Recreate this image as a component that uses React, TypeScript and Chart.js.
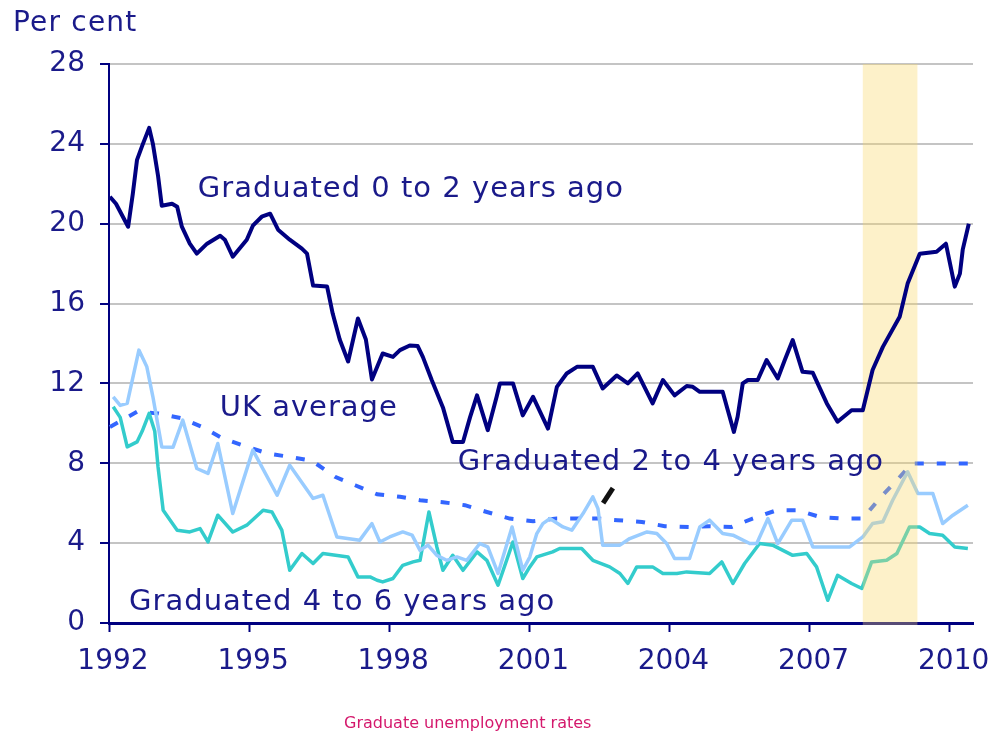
import React, { useEffect, useRef } from "react";
import { Chart, registerables } from "chart.js";

Chart.register(...registerables);

// ---------- data ----------
const xTickYears = [1992, 1995, 1998, 2001, 2004, 2007, 2010];
const xMax = 2010.5;
const yMin = 0;
const yMax = 28;
const yStep = 4;
const recessionStart = 2008.14;
const recessionEnd = 2009.31;

// Graduated 0 to 2 years ago
const grad02Years = [1992.02,1992.15,1992.41,1992.51,1992.6,1992.71,1992.86,1992.94,1993.05,1993.13,1993.35,1993.46,1993.56,1993.73,1993.88,1994.1,1994.38,1994.48,1994.65,1994.95,1995.08,1995.27,1995.45,1995.62,1995.87,1996.13,1996.24,1996.37,1996.67,1996.79,1996.94,1997.12,1997.33,1997.5,1997.63,1997.86,1998.08,1998.23,1998.44,1998.61,1998.72,1998.91,1999.15,1999.36,1999.58,1999.73,1999.88,2000.11,2000.3,2000.37,2000.65,2000.86,2001.08,2001.4,2001.59,2001.8,2002.02,2002.36,2002.57,2002.87,2003.11,2003.32,2003.64,2003.86,2004.11,2004.37,2004.5,2004.65,2005.14,2005.25,2005.38,2005.46,2005.57,2005.68,2005.89,2006.08,2006.32,2006.47,2006.64,2006.85,2007.07,2007.37,2007.6,2007.9,2008.14,2008.35,2008.57,2008.93,2009.1,2009.36,2009.72,2009.92,2010.11,2010.22,2010.28,2010.41];
const grad02Values = [21.35,21.0,19.85,21.5,23.2,23.9,24.8,24.0,22.4,20.9,21.0,20.85,19.85,19.0,18.5,19.0,19.4,19.2,18.35,19.2,19.9,20.35,20.5,19.7,19.2,18.75,18.5,16.9,16.85,15.5,14.2,13.1,15.25,14.2,12.2,13.5,13.33,13.67,13.9,13.87,13.33,12.17,10.8,9.07,9.07,10.3,11.4,9.66,11.33,12.0,12.0,10.4,11.33,9.74,11.83,12.5,12.83,12.83,11.75,12.4,12.0,12.5,11.0,12.17,11.4,11.87,11.83,11.58,11.58,10.66,9.57,10.33,12.0,12.17,12.17,13.17,12.25,13.17,14.17,12.58,12.53,11.0,10.08,10.66,10.66,12.67,13.83,15.34,17.0,18.5,18.6,19.0,16.85,17.5,18.7,20.0];

// Graduated 2 to 4 years ago
const grad24Years = [1992.09,1992.24,1992.39,1992.64,1992.81,1992.94,1993.13,1993.37,1993.58,1993.88,1994.12,1994.33,1994.65,1995.08,1995.6,1995.87,1996.37,1996.58,1996.88,1997.37,1997.63,1997.8,1998.01,1998.29,1998.49,1998.66,1998.83,1999.02,1999.23,1999.45,1999.66,1999.94,2000.11,2000.33,2000.63,2000.86,2001.01,2001.16,2001.29,2001.44,2001.72,2001.91,2002.15,2002.36,2002.47,2002.57,2002.94,2003.15,2003.52,2003.73,2003.94,2004.11,2004.43,2004.65,2004.86,2005.14,2005.36,2005.72,2005.87,2006.11,2006.32,2006.62,2006.85,2007.07,2007.86,2008.14,2008.35,2008.57,2008.78,2009.1,2009.32,2009.64,2009.85,2010.07,2010.39];
const grad24Values = [11.33,10.9,11.0,13.67,12.83,11.33,8.82,8.8,10.16,7.74,7.49,8.99,5.48,8.66,6.4,7.9,6.24,6.4,4.31,4.15,4.98,4.06,4.31,4.56,4.4,3.64,3.9,3.39,3.14,3.31,3.14,3.98,3.81,2.48,4.81,2.64,3.3,4.48,4.98,5.23,4.81,4.65,5.48,6.32,5.73,3.9,3.9,4.23,4.56,4.48,3.98,3.23,3.23,4.81,5.15,4.48,4.4,3.98,3.98,5.23,3.98,5.15,5.15,3.81,3.81,4.31,4.98,5.07,6.15,7.57,6.49,6.49,4.98,5.4,5.9];

// Graduated 4 to 6 years ago
const grad46Years = [1992.09,1992.24,1992.39,1992.6,1992.71,1992.86,1992.98,1993.05,1993.16,1993.46,1993.73,1993.95,1994.12,1994.33,1994.65,1994.95,1995.3,1995.49,1995.7,1995.87,1996.13,1996.37,1996.58,1997.12,1997.33,1997.59,1997.74,1997.86,1998.08,1998.29,1998.51,1998.66,1998.85,1999.02,1999.15,1999.36,1999.58,1999.88,2000.09,2000.33,2000.65,2000.86,2001.01,2001.16,2001.5,2001.65,2002.12,2002.36,2002.72,2002.94,2003.11,2003.3,2003.64,2003.86,2004.16,2004.37,2004.86,2005.12,2005.36,2005.61,2005.93,2006.21,2006.64,2006.94,2007.15,2007.39,2007.6,2007.9,2008.12,2008.33,2008.65,2008.87,2009.14,2009.36,2009.57,2009.85,2010.11,2010.39];
const grad46Values = [10.83,10.3,8.82,9.07,9.6,10.5,9.6,7.82,5.65,4.65,4.56,4.73,4.06,5.4,4.56,4.9,5.65,5.56,4.65,2.64,3.48,2.98,3.48,3.31,2.31,2.31,2.14,2.06,2.23,2.89,3.06,3.14,5.56,3.81,2.64,3.39,2.64,3.56,3.14,1.89,4.06,2.23,2.81,3.31,3.56,3.73,3.73,3.14,2.81,2.48,1.98,2.81,2.81,2.48,2.48,2.56,2.48,3.06,1.98,2.98,3.98,3.9,3.39,3.48,2.81,1.14,2.39,1.98,1.73,3.06,3.14,3.48,4.81,4.81,4.48,4.4,3.81,3.73];

// UK average
const ukYears = [1992.02,1992.6,1993.05,1993.56,1993.99,1994.44,1994.91,1995.4,1995.87,1996.35,1996.84,1997.27,1997.74,1998.23,1998.66,1999.15,1999.62,2000.09,2000.58,2001.08,2001.59,2002.02,2002.47,2002.89,2003.41,2003.9,2004.43,2004.86,2005.33,2005.78,2006.3,2006.75,2007.22,2007.69,2008.14,2008.5,2008.87,2009.19,2009.64,2010.11,2010.43];
const ukValues = [9.82,10.58,10.5,10.25,9.82,9.24,8.86,8.49,8.32,8.12,7.32,6.9,6.45,6.32,6.15,6.05,5.9,5.56,5.23,5.1,5.23,5.23,5.23,5.15,5.06,4.85,4.81,4.85,4.81,5.23,5.65,5.65,5.31,5.23,5.23,6.24,7.15,7.99,7.99,7.99,7.99];

// in-chart labels (x in years, y = text baseline value)
const labelTexts = ["Graduated 0 to 2 years ago", "UK average", "Graduated 2 to 4 years ago", "Graduated 4 to 6 years ago"];
const labelXs = [1993.9, 1994.37, 1999.47, 1992.43];
const labelYs = [21.32, 10.36, 7.65, 0.67];

// pointer mark near the 2-4 years line
const pointerXs = [2002.58, 2002.79];
const pointerYs = [6.0, 6.75];

const yAxisTitle = "Per cent";
const caption = "Graduate unemployment rates";

// ---------- styles ----------
const NAVY = "#000080";
const TEXT = "#1a1a8a";
const FONT = "'DejaVu Sans', Verdana, sans-serif";

const pairs = (xs: number[], ys: number[]) => xs.map((x, i) => ({ x, y: ys[i] }));

const overlayPlugin = {
  id: "overlay",
  beforeDatasetDraw(chart: any, args: any) {
    if (args.index !== 0) return;
    const { ctx, chartArea, scales } = chart;
    const x0 = scales.x.getPixelForValue(recessionStart);
    const x1 = scales.x.getPixelForValue(recessionEnd);
    ctx.save();
    ctx.fillStyle = "rgba(250, 215, 100, 0.35)";
    ctx.fillRect(x0, chartArea.top, x1 - x0, chartArea.bottom - chartArea.top + 2);
    ctx.restore();
  },
  afterDraw(chart: any) {
    const { ctx, scales } = chart;
    const xs = scales.x;
    const ys = scales.y;
    ctx.save();
    // pointer
    ctx.strokeStyle = "#111111";
    ctx.lineWidth = 5;
    ctx.lineCap = "butt";
    ctx.beginPath();
    ctx.moveTo(xs.getPixelForValue(pointerXs[0]), ys.getPixelForValue(pointerYs[0]));
    ctx.lineTo(xs.getPixelForValue(pointerXs[1]), ys.getPixelForValue(pointerYs[1]));
    ctx.stroke();

    // labels
    ctx.fillStyle = TEXT;
    ctx.textAlign = "left";
    ctx.textBaseline = "alphabetic";
    ctx.font = `29px ${FONT}`;
    if ("letterSpacing" in ctx) (ctx as any).letterSpacing = "1px";
    labelTexts.forEach((t, i) => {
      ctx.fillText(t, xs.getPixelForValue(labelXs[i]), ys.getPixelForValue(labelYs[i]));
    });

    // axis title
    ctx.font = `28px ${FONT}`;
    if ("letterSpacing" in ctx) (ctx as any).letterSpacing = "1.2px";
    ctx.fillText(yAxisTitle, 13, 31);

    // caption
    ctx.font = `16px ${FONT}`;
    if ("letterSpacing" in ctx) (ctx as any).letterSpacing = "0px";
    ctx.fillStyle = "#d4186c";
    ctx.fillText(caption, 344, 728);
    ctx.restore();
  },
};

export default function App() {
  const ref = useRef<HTMLCanvasElement>(null);

  useEffect(() => {
    if (!ref.current) return;
    const tickFont = { family: FONT, size: 28 };
    const chart = new Chart(ref.current, {
      type: "line",
      data: {
        datasets: [
          {
            label: "Graduated 0 to 2 years ago",
            data: pairs(grad02Years, grad02Values),
            borderColor: NAVY,
            borderWidth: 4,
            pointRadius: 0,
            tension: 0,
            borderJoinStyle: "round",
          },
          {
            label: "Graduated 2 to 4 years ago",
            data: pairs(grad24Years, grad24Values),
            borderColor: "#99ccff",
            borderWidth: 3.5,
            pointRadius: 0,
            tension: 0,
            borderJoinStyle: "round",
          },
          {
            label: "Graduated 4 to 6 years ago",
            data: pairs(grad46Years, grad46Values),
            borderColor: "#33cccc",
            borderWidth: 3.5,
            pointRadius: 0,
            tension: 0,
            borderJoinStyle: "round",
          },
          {
            label: "UK average",
            data: pairs(ukYears, ukValues),
            borderColor: "#3366ff",
            borderWidth: 4,
            borderDash: [9, 13],
            pointRadius: 0,
            tension: 0,
          },
        ],
      },
      options: {
        animation: false,
        responsive: false,
        devicePixelRatio: 1,
        maintainAspectRatio: false,
        layout: { padding: { top: 64, right: 17, left: 0, bottom: 0 } },
        plugins: { legend: { display: false }, tooltip: { enabled: false } },
        events: [],
        scales: {
          x: {
            type: "linear",
            min: xTickYears[0],
            max: xMax,
            afterBuildTicks: (scale: any) => {
              scale.ticks = xTickYears.map((v) => ({ value: v }));
            },
            afterFit: (scale: any) => {
              scale.height = 108;
              scale.paddingLeft = 0;
              scale.paddingRight = 0;
            },
            ticks: {
              callback: (v: any) => String(v),
              font: tickFont,
              color: TEXT,
              padding: 13,
              labelOffset: 4,
              maxRotation: 0,
              autoSkip: false,
            },
            grid: {
              drawOnChartArea: false,
              drawTicks: true,
              tickLength: 9,
              tickWidth: 2,
              tickColor: NAVY,
            },
            border: { color: NAVY, width: 3 },
          },
          y: {
            min: yMin,
            max: yMax,
            afterFit: (scale: any) => {
              scale.width = 109;
              scale.paddingTop = 0;
              scale.paddingBottom = 0;
            },
            ticks: {
              stepSize: yStep,
              font: tickFont,
              color: TEXT,
              padding: 15,
            },
            grid: {
              color: "#c4c4c4",
              lineWidth: 2,
              tickLength: 9,
              tickWidth: 2,
              tickColor: NAVY,
            },
            border: { color: NAVY, width: 2 },
          },
        },
      },
      plugins: [overlayPlugin],
    } as any);
    return () => chart.destroy();
  }, []);

  return (
    <div style={{ position: "absolute", left: 0, top: 0, width: 990, height: 731, background: "#fff" }}>
      <canvas ref={ref} width={990} height={731} style={{ display: "block" }} />
    </div>
  );
}
